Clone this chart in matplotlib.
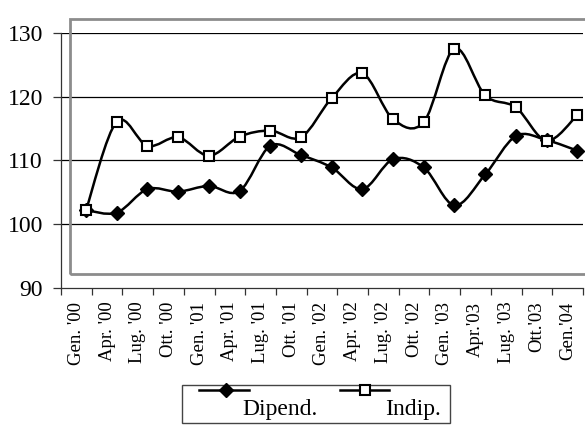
import matplotlib
matplotlib.use("Agg")
import matplotlib.pyplot as plt
from matplotlib.path import Path
from matplotlib.patches import PathPatch, Rectangle
from matplotlib.lines import Line2D
import numpy as np

categories = ["Gen. '00", "Apr. '00", "Lug. '00", "Ott. '00", "Gen. '01", "Apr. '01",
              "Lug. '01", "Ott. '01", "Gen. '02", "Apr. '02", "Lug. '02", "Ott. '02",
              "Gen. '03", "Apr.'03", "Lug. '03", "Ott.'03", "Gen.'04"]
dipend = [102.2, 101.8, 105.5, 105.1, 106.0, 105.2, 112.3, 110.85, 108.9, 105.5,
          110.2, 108.9, 102.95, 107.8, 113.85, 113.2, 111.55]
indip = [102.2, 116.1, 112.3, 113.65, 110.75, 113.75, 114.7, 113.65, 119.8, 123.7,
         116.5, 116.05, 127.6, 120.25, 118.35, 113.1, 117.15]
yticks = [90, 100, 110, 120, 130]

plt.rcParams['font.family'] = ['Liberation Serif', 'DejaVu Serif']

W, H = 585, 425
fig = plt.figure(figsize=(W / 100, H / 100), dpi=100)
fx = lambda px: px / W
fy = lambda py: 1 - py / H

ax = fig.add_axes([fx(61), fy(287.7), fx(583) - fx(61), fy(33.3) - fy(287.7)])
n = len(categories)
ax.set_xlim(0, n)
ax.set_ylim(90, 130)

off = 0.815
xs = np.arange(n) + off


def smooth_path(x, y):
    pts = np.column_stack([x, y])
    verts = [pts[0]]
    codes = [Path.MOVETO]
    for i in range(len(pts) - 1):
        p0 = pts[i - 1] if i > 0 else pts[i]
        p1 = pts[i]
        p2 = pts[i + 1]
        p3 = pts[i + 2] if i + 2 < len(pts) else pts[i + 1]
        c1 = p1 + (p2 - p0) / 6.0
        c2 = p2 - (p3 - p1) / 6.0
        verts += [c1, c2, p2]
        codes += [Path.CURVE4] * 3
    return Path(verts, codes)


for ys in (dipend, indip):
    ax.add_patch(PathPatch(smooth_path(xs, ys), fill=False, lw=1.8, ec='black',
                           zorder=3, clip_on=False))

ax.plot(xs, dipend, ls='none', marker='D', ms=7.2, mfc='black', mec='black',
        zorder=4, clip_on=False)
ax.plot(xs, indip, ls='none', marker='s', ms=7.2, mfc='white', mec='black', mew=1.5,
        zorder=5, clip_on=False)

# grid
for v in yticks[1:]:
    ax.axhline(v, color='black', lw=0.9, zorder=1)

ax.set_yticks(yticks)
ax.set_yticklabels([str(v) for v in yticks], fontsize=17)
ax.tick_params(axis='y', direction='out', length=6, width=0.9, pad=7, color='#333333')

ax.set_xticks(np.arange(n + 1))
ax.set_xticklabels([])
ax.set_xticks(np.arange(n) + 0.5, minor=True)
ax.set_xticklabels(categories, minor=True, rotation=90, fontsize=13.5)
ax.tick_params(axis='x', which='major', direction='out', length=5, width=0.9, color='#333333')
ax.tick_params(axis='x', which='minor', length=0, pad=10)

for s in ['top', 'right']:
    ax.spines[s].set_visible(False)
for s in ['left', 'bottom']:
    ax.spines[s].set_color('#333333')
    ax.spines[s].set_linewidth(0.9)

# grey plot-area frame
fig.patches.append(Rectangle((fx(70.3), fy(274)), fx(600) - fx(70.3), fy(19.3) - fy(274),
                             transform=fig.transFigure, fill=False, ec='#8c8c8c', lw=2.0,
                             zorder=0))

# legend
fig.patches.append(Rectangle((fx(182), fy(423)), fx(450) - fx(182), fy(385) - fy(423),
                             transform=fig.transFigure, fill=False, ec='#444444', lw=1.0))
fig.lines.append(Line2D([fx(199), fx(249)], [fy(390), fy(390)], transform=fig.transFigure,
                        color='black', lw=1.8))
fig.lines.append(Line2D([fx(226)], [fy(390)], transform=fig.transFigure, ls='none',
                        marker='D', ms=7.2, mfc='black', mec='black'))
fig.lines.append(Line2D([fx(340), fx(389)], [fy(390), fy(390)], transform=fig.transFigure,
                        color='black', lw=1.8))
fig.lines.append(Line2D([fx(365)], [fy(390)], transform=fig.transFigure, ls='none',
                        marker='s', ms=7.2, mfc='white', mec='black', mew=1.5))
fig.text(fx(242), fy(415), "Dipend.", fontsize=17, va='baseline', ha='left')
fig.text(fx(385), fy(415), "Indip.", fontsize=17, va='baseline', ha='left')

fig.savefig("out.png", dpi=100)
